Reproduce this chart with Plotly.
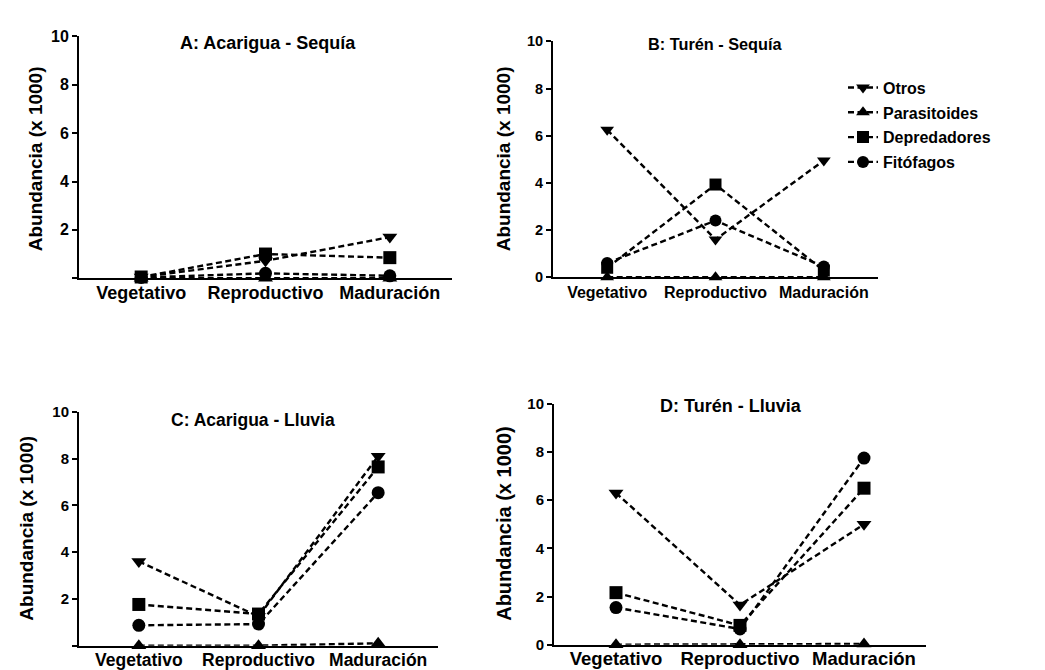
import plotly.graph_objects as go

categories = ["Vegetativo", "Reproductivo", "Maduración"]
series_names = ["Otros", "Parasitoides", "Depredadores", "Fitófagos"]
symbols = ["triangle-down", "triangle-up", "square", "circle"]

# Abundancia (x 1000) per panel
panel_A_otros = [0.05, 0.72, 1.70]
panel_A_parasitoides = [0.0, 0.0, 0.0]
panel_A_depredadores = [0.05, 1.00, 0.85]
panel_A_fitofagos = [0.03, 0.20, 0.10]

panel_B_otros = [6.25, 1.60, 4.95]
panel_B_parasitoides = [0.0, 0.0, 0.0]
panel_B_depredadores = [0.40, 3.93, 0.28]
panel_B_fitofagos = [0.60, 2.40, 0.45]

panel_C_otros = [3.60, 1.25, 8.10]
panel_C_parasitoides = [0.0, 0.0, 0.10]
panel_C_depredadores = [1.76, 1.35, 7.64]
panel_C_fitofagos = [0.87, 0.92, 6.54]

panel_D_otros = [6.30, 1.65, 5.00]
panel_D_parasitoides = [0.0, 0.0, 0.03]
panel_D_depredadores = [2.16, 0.80, 6.50]
panel_D_fitofagos = [1.54, 0.65, 7.75]

panel_titles = ["A: Acarigua - Sequía", "B: Turén - Sequía",
                "C: Acarigua - Lluvia", "D: Turén - Lluvia"]
y_title = "Abundancia (x 1000)"
y_tickvals = [0, 2, 4, 6, 8, 10]

panels = [
    [panel_A_otros, panel_A_parasitoides, panel_A_depredadores, panel_A_fitofagos],
    [panel_B_otros, panel_B_parasitoides, panel_B_depredadores, panel_B_fitofagos],
    [panel_C_otros, panel_C_parasitoides, panel_C_depredadores, panel_C_fitofagos],
    [panel_D_otros, panel_D_parasitoides, panel_D_depredadores, panel_D_fitofagos],
]

W, H = 1045, 670
# pixel boxes: (x_left, x_right, y_bottom(px), y_top(px))
boxes = [(71, 444, 268, 20), (545, 870, 267, 25), (71, 430, 645, 405), (546, 918, 644, 397)]
title_pos = [(260, 27), (707, 28), (245, 413), (723, 399)]
ytitle_pos = [(27, 146), (495, 146), (19, 525), (496, 520)]
show_zero = [False, True, False, True]
cat_size = [18, 16, 17.5, 18.5]
title_size = [18, 16.3, 17.5, 18]
tick_size = [16, 14.5, 15, 15]
ytitle_size = [19, 19, 19, 20]
marker_size = [13, 12, 13, 13]
cat_standoff = [-3, 0, -3, -4]

FONT = "Liberation Sans, Arial, sans-serif"
fig = go.Figure()

for p, data in enumerate(panels):
    xa = "x" if p == 0 else f"x{p+1}"
    ya = "y" if p == 0 else f"y{p+1}"
    for s, vals in enumerate(data):
        fig.add_trace(go.Scatter(
            x=[0, 1, 2], y=vals, xaxis=xa, yaxis=ya,
            mode="lines+markers", name=series_names[s],
            legendgroup=series_names[s], showlegend=(p == 1),
            line=dict(color="black", width=2.4, dash="6px,3.5px"),
            marker=dict(symbol=symbols[s], size=marker_size[p], color="black"),
            cliponaxis=False,
        ))

layout = dict(
    width=W, height=H, margin=dict(l=0, r=0, t=0, b=0),
    paper_bgcolor="white", plot_bgcolor="white",
    font=dict(family=FONT, color="black"),
    legend=dict(x=835 / W, y=1 - 55 / H, xanchor="left", yanchor="top",
                font=dict(family=FONT, size=16, color="black", weight="bold"),
                tracegroupgap=1, bgcolor="rgba(0,0,0,0)"),
)
annotations = []
for p, (xl, xr, yb, yt) in enumerate(boxes):
    kx = "xaxis" if p == 0 else f"xaxis{p+1}"
    ky = "yaxis" if p == 0 else f"yaxis{p+1}"
    ya = "y" if p == 0 else f"y{p+1}"
    xa = "x" if p == 0 else f"x{p+1}"
    layout[kx] = dict(
        domain=[xl / W, xr / W], range=[-0.5, 2.5], anchor=ya,
        showline=True, linecolor="black", linewidth=2, showgrid=False, zeroline=False,
        tickvals=[0, 1, 2], ticktext=categories, ticks="",
        tickfont=dict(family=FONT, size=cat_size[p], color="black", weight="bold"),
    )
    layout[ky] = dict(
        domain=[1 - yb / H, 1 - yt / H], range=[0, 10], anchor=xa,
        showline=True, linecolor="black", linewidth=2, showgrid=False, zeroline=False,
        tickvals=y_tickvals,
        ticktext=[(str(v) if (v != 0 or show_zero[p]) else "") for v in y_tickvals],
        ticks="outside", ticklen=5, tickwidth=2, tickcolor="black",
        tickfont=dict(family=FONT, size=tick_size[p], color="black", weight="bold"),
    )
    tx, ty = title_pos[p]
    annotations.append(dict(
        x=tx / W, y=1 - ty / H, xref="paper", yref="paper", showarrow=False,
        text=panel_titles[p], xanchor="center", yanchor="middle",
        font=dict(family=FONT, size=title_size[p], color="black", weight="bold")))
    yx, yy = ytitle_pos[p]
    annotations.append(dict(
        x=yx / W, y=1 - yy / H, xref="paper", yref="paper", showarrow=False,
        text=y_title, textangle=-90, xanchor="center", yanchor="middle",
        font=dict(family=FONT, size=ytitle_size[p], color="black", weight="bold")))
layout["annotations"] = annotations
fig.update_layout(**layout)

for p in range(4):
    kx = "xaxis" if p == 0 else f"xaxis{p+1}"
    try:
        fig.update_layout({kx: dict(ticklabelstandoff=cat_standoff[p])})
    except ValueError:
        pass

fig.write_html("out.html")
